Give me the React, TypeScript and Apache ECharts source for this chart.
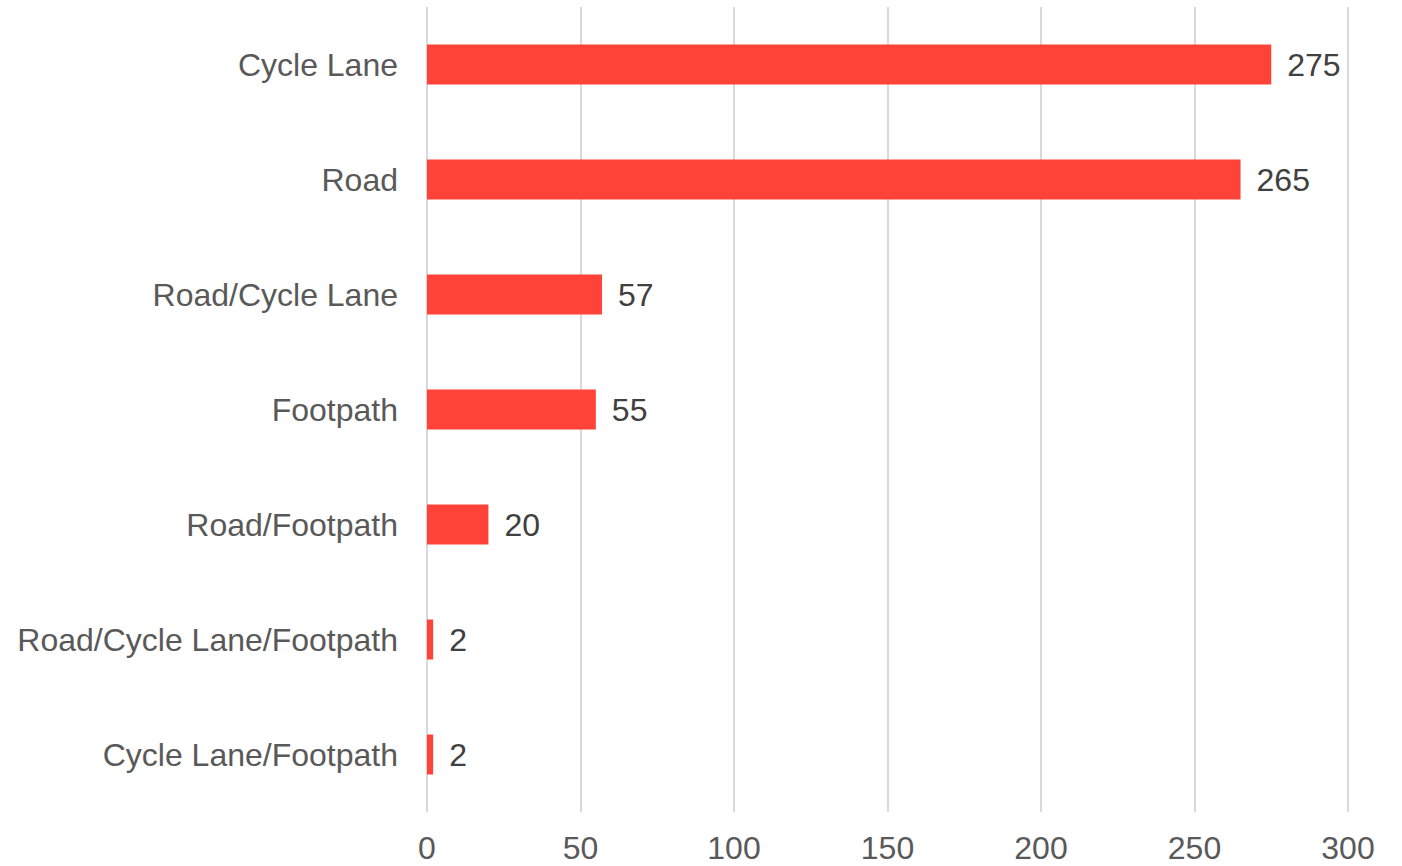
import React, { useEffect, useRef } from "react";
import * as echarts from "echarts";

const categories = [
  "Cycle Lane/Footpath",
  "Road/Cycle Lane/Footpath",
  "Road/Footpath",
  "Footpath",
  "Road/Cycle Lane",
  "Road",
  "Cycle Lane",
];
const values = [2, 2, 20, 55, 57, 265, 275];
const xTicks = [0, 50, 100, 150, 200, 250, 300];

const FONT = "Liberation Sans, Arial, sans-serif";

export default function App() {
  const ref = useRef<HTMLDivElement>(null);
  useEffect(() => {
    const chart = echarts.init(ref.current!, null, { renderer: "svg" });
    chart.setOption({
      animation: false,
      grid: { left: 427, right: 54, top: 7, bottom: 54, containLabel: false },
      xAxis: {
        type: "value",
        min: xTicks[0],
        max: xTicks[xTicks.length - 1],
        interval: 50,
        axisLine: { show: false },
        axisTick: { show: false },
        axisLabel: {
          color: "#595959",
          fontSize: 32,
          lineHeight: 32,
          fontFamily: FONT,
          margin: 20,
        },
        splitLine: { show: true, lineStyle: { color: "#d9d9d9", width: 2 } },
      },
      yAxis: {
        type: "category",
        data: categories,
        axisLine: { show: false },
        axisTick: { show: false },
        axisLabel: {
          color: "#595959",
          fontSize: 32,
          fontFamily: FONT,
          margin: 29,
        },
        splitLine: { show: false },
      },
      series: [
        {
          type: "bar",
          data: values,
          barWidth: 40,
          itemStyle: { color: "#ff4339" },
          label: {
            show: true,
            position: "right",
            distance: 16,
            color: "#404040",
            fontSize: 32,
            fontFamily: FONT,
          },
        },
      ],
    });
    return () => chart.dispose();
  }, []);
  return <div ref={ref} style={{ width: 1402, height: 866, position: "absolute", left: 0, top: 0 }} />;
}
